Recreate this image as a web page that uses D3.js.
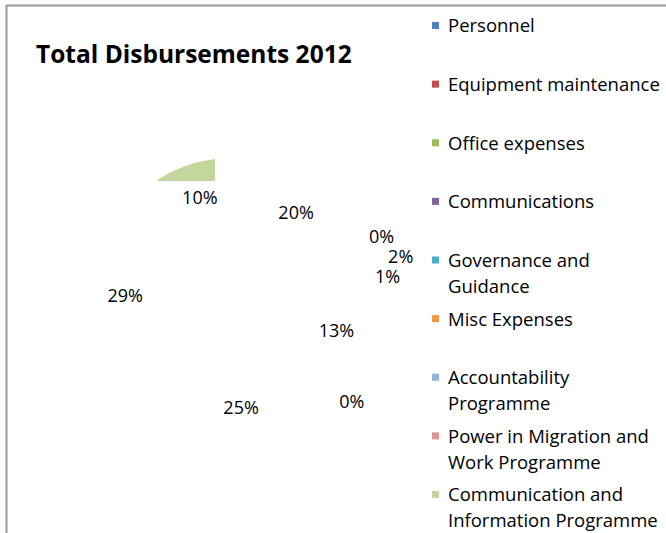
<!DOCTYPE html>
<meta charset="utf-8">
<style>
body { margin: 0; background: #fff; }
text { font-family: "Open Sans", sans-serif; fill: #000; }
.title { font-weight: bold; font-size: 24.5px; }
.legend text { font-size: 18.5px; }
.labels text { font-size: 18px; }
</style>
<svg width="666" height="533"></svg>
<script src="https://d3js.org/d3.v7.min.js"></script>
<script>

var categories = [
  "Personnel",
  "Equipment maintenance",
  "Office expenses",
  "Communications",
  "Governance and|Guidance",
  "Misc Expenses",
  "Accountability|Programme",
  "Power in Migration and|Work Programme",
  "Communication and|Information Programme"
];
var shares = [20, 0.3, 2, 1, 13, 0.3, 25, 29, 10];
var colors = ["#4f81bd", "#c0504d", "#9bbb59", "#8064a2", "#4bacc6",
              "#f79646", "#95b3d7", "#d99694", "#c3d69b"];

var svg = d3.select("svg");
var width = +svg.attr("width");
var height = +svg.attr("height");

// chart area border (runs off the bottom/right of the picture)
svg.append("rect")
  .attr("x", 6.5).attr("y", 5.5)
  .attr("width", width + 20).attr("height", height + 20)
  .attr("fill", "none")
  .attr("stroke", "#9a9a9a")
  .attr("stroke-width", 2);

svg.append("text")
  .attr("class", "title")
  .attr("x", 36).attr("y", 63)
  .text("Total Disbursements 2012");

var cx = 233, cy = 300, r = 142;

var pie = d3.pie().sort(null).value(function(d) { return d; });
var arcs = pie(shares);
var arc = d3.arc().innerRadius(0).outerRadius(r);

// only a sliver of the pie made it into the picture
svg.append("clipPath").attr("id", "sliver")
  .append("rect")
  .attr("x", -75).attr("y", -r - 10)
  .attr("width", 57).attr("height", r + 10 - 119);

svg.append("g")
  .attr("transform", "translate(" + cx + "," + cy + ")")
  .attr("clip-path", "url(#sliver)")
  .selectAll("path")
  .data(arcs)
  .enter().append("path")
  .attr("d", arc)
  .attr("fill", function(d, i) { return colors[i]; });

// data labels: inside for big slices, outside for small ones
var total = d3.sum(shares);
var inner = d3.arc().innerRadius(r * 0.76).outerRadius(r * 0.76);
var outer = d3.arc().innerRadius(r * 1.1).outerRadius(r * 1.1);
var labels = arcs.map(function(d) {
  var p = (d.value / total >= 0.05 ? inner : outer).centroid(d);
  return { x: cx + p[0], y: cy + p[1], text: Math.round(100 * d.value / total) + "%", small: d.value / total < 0.05 };
});
// push crowded outside labels apart so they don't overlap
for (var i = labels.length - 2; i >= 0; i--) {
  var a = labels[i], b = labels[i + 1];
  if (a.small && b.small && Math.abs(a.x - b.x) < 34 && b.y - a.y < 18) {
    a.y = b.y - 20;
    if (i > 0 && labels[i - 1].small) a.x += 16;
  }
}

svg.append("g").attr("class", "labels")
  .selectAll("text")
  .data(labels)
  .enter().append("text")
  .attr("x", function(d) { return d.x; })
  .attr("y", function(d) { return d.y; })
  .attr("text-anchor", "middle")
  .attr("dy", "0.35em")
  .text(function(d) { return d.text; });

// legend
var ly = d3.scalePoint().domain(d3.range(categories.length)).range([26, 495]);
var legend = svg.append("g").attr("class", "legend")
  .selectAll("g")
  .data(categories)
  .enter().append("g")
  .attr("transform", function(d, i) { return "translate(432," + ly(i) + ")"; });

legend.append("rect")
  .attr("x", 0).attr("y", -4)
  .attr("width", 7).attr("height", 7)
  .attr("fill", function(d, i) { return colors[i]; });

legend.append("text")
  .attr("x", 16)
  .selectAll("tspan")
  .data(function(d) { return d.split("|"); })
  .enter().append("tspan")
  .attr("x", 16)
  .attr("y", function(d, j) { return j * 26; })
  .attr("dy", "0.35em")
  .text(function(d) { return d; });

</script>
